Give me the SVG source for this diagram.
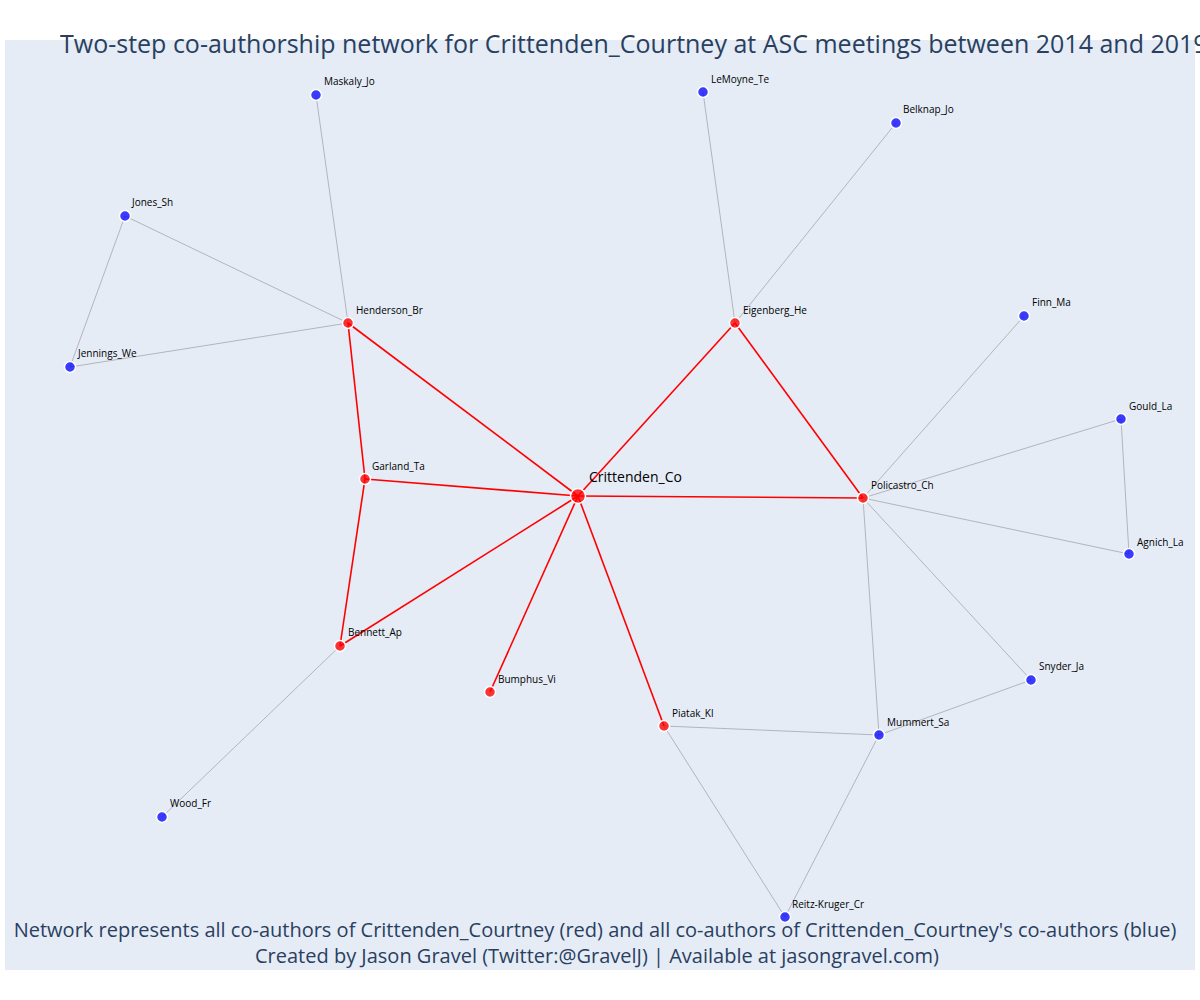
<svg xmlns="http://www.w3.org/2000/svg" width="1200" height="1000" viewBox="0 0 1200 1000">
<style>
text{font-family:"Open Sans","Liberation Sans",sans-serif;}
.lbl{font-size:10px;fill:#000;}
.ttl{font-size:25px;fill:#2a3f5f;}
.ftr{font-size:20px;fill:#2a3f5f;text-anchor:middle;}
.r{stroke:#ff0000;stroke-width:1.6;}
.g{stroke:#b4b4bc;stroke-width:1;}
.nr{fill:#ff0000;fill-opacity:0.78;stroke:#fff;stroke-width:1.5;}
.nb{fill:#0000ff;fill-opacity:0.75;stroke:#fff;stroke-width:1.5;}
</style>
<rect x="0" y="0" width="1200" height="1000" fill="#fff"/>
<rect x="5" y="40" width="1190" height="930" fill="#e5ecf6"/>
<g id="edges" fill="none">
<line class="g" x1="316" y1="95" x2="348" y2="323"/>
<line class="g" x1="125" y1="216" x2="348" y2="323"/>
<line class="g" x1="70" y1="367" x2="348" y2="323"/>
<line class="g" x1="125" y1="216" x2="70" y2="367"/>
<line class="g" x1="703" y1="92" x2="735" y2="323"/>
<line class="g" x1="896" y1="123" x2="735" y2="323"/>
<line class="g" x1="1024" y1="316" x2="863" y2="498"/>
<line class="g" x1="1121" y1="419" x2="863" y2="498"/>
<line class="g" x1="1129" y1="554" x2="863" y2="498"/>
<line class="g" x1="1121" y1="419" x2="1129" y2="554"/>
<line class="g" x1="1031" y1="680" x2="863" y2="498"/>
<line class="g" x1="879" y1="735" x2="863" y2="498"/>
<line class="g" x1="1031" y1="680" x2="879" y2="735"/>
<line class="g" x1="664" y1="726" x2="879" y2="735"/>
<line class="g" x1="664" y1="726" x2="785" y2="917"/>
<line class="g" x1="879" y1="735" x2="785" y2="917"/>
<line class="g" x1="340" y1="646" x2="162" y2="817"/>
<line class="r" x1="578" y1="496" x2="348" y2="323"/>
<line class="r" x1="578" y1="496" x2="735" y2="323"/>
<line class="r" x1="578" y1="496" x2="365" y2="479"/>
<line class="r" x1="578" y1="496" x2="863" y2="498"/>
<line class="r" x1="578" y1="496" x2="340" y2="646"/>
<line class="r" x1="578" y1="496" x2="490" y2="692"/>
<line class="r" x1="578" y1="496" x2="664" y2="726"/>
<line class="r" x1="348" y1="323" x2="365" y2="479"/>
<line class="r" x1="365" y1="479" x2="340" y2="646"/>
<line class="r" x1="735" y1="323" x2="863" y2="498"/>
</g>
<g id="n-maskaly"><circle class="nb" cx="316" cy="95" r="5.5"/><text class="lbl" x="324" y="85">Maskaly_Jo</text></g>
<g id="n-lemoyne"><circle class="nb" cx="703" cy="92" r="5.5"/><text class="lbl" x="711" y="83">LeMoyne_Te</text></g>
<g id="n-belknap"><circle class="nb" cx="896" cy="123" r="5.5"/><text class="lbl" x="903" y="113">Belknap_Jo</text></g>
<g id="n-jones"><circle class="nb" cx="125" cy="216" r="5.5"/><text class="lbl" x="132" y="206">Jones_Sh</text></g>
<g id="n-henderson"><circle class="nr" cx="348" cy="323" r="5.5"/><text class="lbl" x="356" y="314">Henderson_Br</text></g>
<g id="n-eigenberg"><circle class="nr" cx="735" cy="323" r="5.5"/><text class="lbl" x="743" y="314">Eigenberg_He</text></g>
<g id="n-finn"><circle class="nb" cx="1024" cy="316" r="5.5"/><text class="lbl" x="1032" y="306">Finn_Ma</text></g>
<g id="n-jennings"><circle class="nb" cx="70" cy="367" r="5.5"/><text class="lbl" x="78" y="357">Jennings_We</text></g>
<g id="n-gould"><circle class="nb" cx="1121" cy="419" r="5.5"/><text class="lbl" x="1129" y="410">Gould_La</text></g>
<g id="n-garland"><circle class="nr" cx="365" cy="479" r="5.5"/><text class="lbl" x="372" y="470">Garland_Ta</text></g>
<g id="n-policastro"><circle class="nr" cx="863" cy="498" r="5.5"/><text class="lbl" x="871" y="489">Policastro_Ch</text></g>
<g id="n-agnich"><circle class="nb" cx="1129" cy="554" r="5.5"/><text class="lbl" x="1137" y="546">Agnich_La</text></g>
<g id="n-bennett"><circle class="nr" cx="340" cy="646" r="5.5"/><text class="lbl" x="348" y="636">Bennett_Ap</text></g>
<g id="n-bumphus"><circle class="nr" cx="490" cy="692" r="5.5"/><text class="lbl" x="498" y="683">Bumphus_Vi</text></g>
<g id="n-snyder"><circle class="nb" cx="1031" cy="680" r="5.5"/><text class="lbl" x="1039" y="670">Snyder_Ja</text></g>
<g id="n-piatak"><circle class="nr" cx="664" cy="726" r="5.5"/><text class="lbl" x="672" y="717">Piatak_Kl</text></g>
<g id="n-mummert"><circle class="nb" cx="879" cy="735" r="5.5"/><text class="lbl" x="887" y="726">Mummert_Sa</text></g>
<g id="n-wood"><circle class="nb" cx="162" cy="817" r="5.5"/><text class="lbl" x="170" y="807">Wood_Fr</text></g>
<g id="n-reitz"><circle class="nb" cx="785" cy="917" r="5.5"/><text class="lbl" x="792" y="908">Reitz-Kruger_Cr</text></g>
<g id="n-crittenden"><circle class="nr" cx="578" cy="496" r="7.5"/><text x="589" y="482" font-size="14" fill="#000">Crittenden_Co</text></g>
<text class="ttl" x="60" y="53">Two-step co-authorship network for Crittenden_Courtney at ASC meetings between 2014 and 2019</text>
<text class="ftr" x="595" y="937">Network represents all co-authors of Crittenden_Courtney (red) and all co-authors of Crittenden_Courtney's co-authors (blue)</text>
<text class="ftr" x="597" y="963">Created by Jason Gravel (Twitter:@GravelJ) | Available at jasongravel.com)</text>
</svg>
